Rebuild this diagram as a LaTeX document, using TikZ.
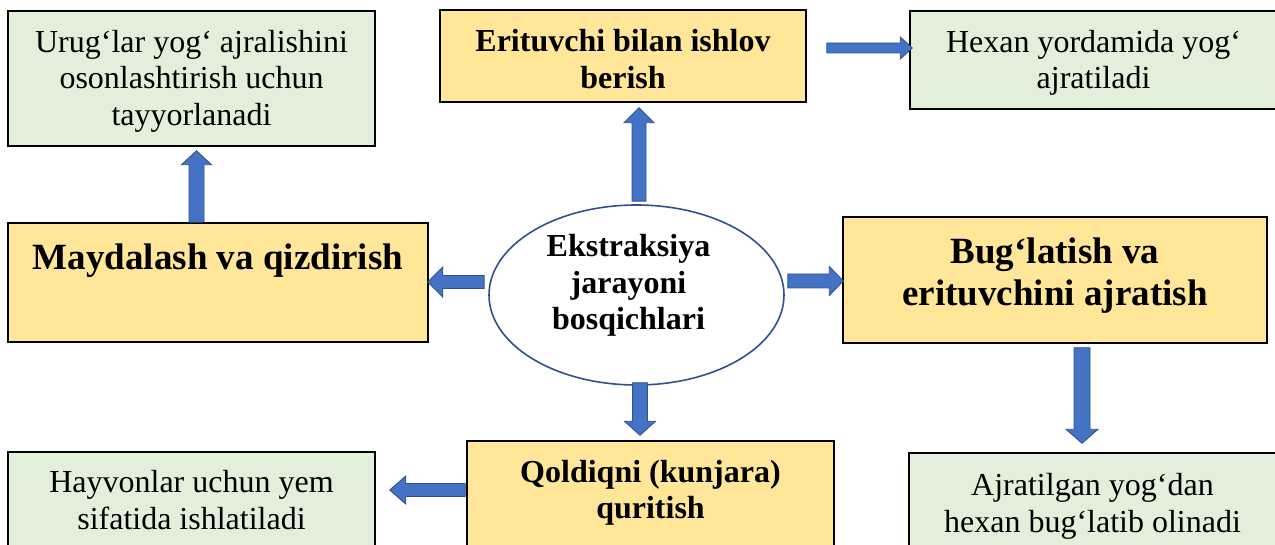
\documentclass[tikz,border=0pt]{standalone}
\usepackage{fontspec}
\setmainfont{Liberation Serif}
\usetikzlibrary{calc,shapes.geometric}
\definecolor{ybox}{HTML}{FFE699}
\definecolor{gbox}{HTML}{E2EFDA}
\definecolor{afill}{HTML}{4472C4}
\definecolor{aedge}{HTML}{2F528F}
\tikzset{
  greenbox/.style={rectangle, draw=black, line width=1.5pt, fill=gbox, align=center, inner sep=0pt,
    font=\fontsize{32}{36.8}\selectfont},
  yellowbox/.style={rectangle, draw=black, line width=1.5pt, fill=ybox, align=center, inner sep=0pt,
    font=\bfseries\fontsize{32}{36.8}\selectfont},
  yellowbig/.style={yellowbox, font=\bfseries\fontsize{37}{42.5}\selectfont},
  centreoval/.style={ellipse, draw=aedge, line width=1.6pt, fill=white, inner sep=0pt, align=center,
    font=\bfseries\fontsize{32}{36.8}\selectfont},
  blkarrow/.style={fill=afill, draw=aedge, line width=0.9pt, line join=miter}
}
% #1 start, #2 tip, #3 half shaft, #4 half head, #5 head length
\newcommand\blockarrow[5]{%
  \filldraw[blkarrow]
    ($(#1)!#3!90:(#2)$) --
    ($(#2)!#5!(#1)!#3!90:(#2)$) --
    ($(#2)!#5!(#1)!#4!90:(#2)$) --
    (#2) --
    ($(#2)!#5!(#1)!#4!-90:(#2)$) --
    ($(#2)!#5!(#1)!#3!-90:(#2)$) --
    ($(#1)!#3!-90:(#2)$) -- cycle;
}
\begin{document}
\begin{tikzpicture}[x=1pt, y=-1pt]
\useasboundingbox (0,0) rectangle (1275,545);
\clip (0,0) rectangle (1275,545);

% boxes
\node[greenbox, minimum width=367pt, minimum height=135pt] (tl) at (191.5,78.5)
  {\mbox{}\\[-9.1pt]Urug‘lar yog‘ ajralishini\\osonlashtirish uchun\\tayyorlanadi};
\node[yellowbox, minimum width=366pt, minimum height=92pt] (tc) at (623,56)
  {\mbox{}\\[-8pt]Erituvchi bilan ishlov\\berish};
\node[greenbox, minimum width=367pt, minimum height=98pt] (tr) at (1093.5,60)
  {\mbox{}\\[-9pt]Hexan yordamida yog‘\\ajratiladi};
\node[yellowbig, minimum width=420pt, minimum height=119pt] (ml) at (218,282.5)
  {Maydalash va qizdirish\\[9.7pt]\mbox{}};
\node[centreoval, minimum width=295pt, minimum height=180pt] (e) at (636.5,295)
  {Ekstraksiya\kern16pt\\jarayoni\kern16pt\\bosqichlari\kern16pt\\[-10.8pt]\mbox{}};
\node[yellowbig, minimum width=424pt, minimum height=126pt] (mr) at (1055,280)
  {Bug‘latish va\\erituvchini ajratish\\[-25.7pt]\mbox{}};
\node[greenbox, minimum width=367pt, minimum height=150pt] (bl) at (191.5,527)
  {Hayvonlar uchun yem\\sifatida ishlatiladi\\[18.2pt]\mbox{}};
\node[yellowbox, minimum width=367pt, minimum height=150pt] (bc) at (650.5,516)
  {Qoldiqni (kunjara)\\quritish\\[16.4pt]\mbox{}};
\node[greenbox, minimum width=367pt, minimum height=150pt] (br) at (1092.5,528)
  {Ajratilgan yog‘dan\\hexan bug‘latib olinadi\\[14.2pt]\mbox{}};

% connector end points
\coordinate (a1s) at ($(e.north)+(2.5,-3)$);
\coordinate (a1e) at ($(a1s |- tc.south)+(0,5)$);
\coordinate (a2s) at ($(tc.east)+(20,-8)$);
\coordinate (a2e) at ($(a2s -| tr.west)+(3,0)$);
\coordinate (a3s) at ($(ml.north)+(-21.5,0)$);
\coordinate (a3e) at ($(a3s |- tl.south)+(0,4)$);
\coordinate (a4s) at ($(e.west)+(-4,-13)$);
\coordinate (a4e) at ($(a4s -| ml.east)+(-1,0)$);
\coordinate (a5s) at ($(e.east)+(3,-14)$);
\coordinate (a5e) at ($(a5s -| mr.west)+(1,0)$);
\coordinate (a6s) at ($(mr.south)+(27,4)$);
\coordinate (a6e) at ($(a6s |- br.north)+(0,-9)$);
\coordinate (a7s) at ($(e.south)+(3.5,-3)$);
\coordinate (a7e) at ($(a7s |- bc.north)+(0,-5)$);
\coordinate (a8s) at ($(bc.west)+(-1,-26)$);
\coordinate (a8e) at ($(a8s -| bl.east)+(14,0)$);

% block arrows
\blockarrow{a1s}{a1e}{7pt}{15pt}{15pt}
\blockarrow{a2s}{a2e}{5pt}{11pt}{12pt}
\blockarrow{a3s}{a3e}{7.5pt}{15pt}{14pt}
\blockarrow{a4s}{a4e}{6.5pt}{15pt}{15pt}
\blockarrow{a5s}{a5e}{7pt}{14.5pt}{14pt}
\blockarrow{a6s}{a6e}{8pt}{16pt}{14pt}
\blockarrow{a7s}{a7e}{7.5pt}{15.5pt}{14pt}
\blockarrow{a8s}{a8e}{6.5pt}{14pt}{16pt}
\end{tikzpicture}
\end{document}
